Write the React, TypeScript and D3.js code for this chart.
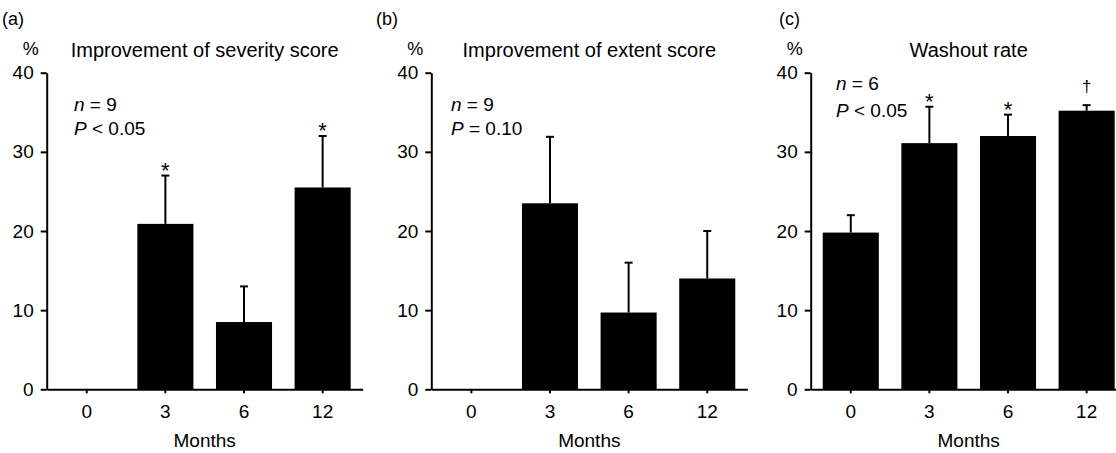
import React, { useRef, useEffect } from "react";
import * as d3 from "d3";

// chart values
const months = ["0", "3", "6", "12"];
const yTicks = [0, 10, 20, 30, 40];

const severityMean = [null, 20.9, 8.5, 25.5];
const severityErr = [null, 6.1, 4.5, 6.5];
const severityMarks = ["", "*", "", "*"];

const extentMean = [null, 23.5, 9.7, 14.0];
const extentErr = [null, 8.4, 6.3, 6.0];
const extentMarks = ["", "", "", ""];

const washoutMean = [19.8, 31.1, 32.0, 35.2];
const washoutErr = [2.2, 4.6, 2.7, 0.7];
const washoutMarks = ["", "*", "*", "†"];

const panels = [
  { tag: "(a)", title: "Improvement of severity score", n: "9", pOp: "<", pVal: "0.05", mean: severityMean, err: severityErr, marks: severityMarks },
  { tag: "(b)", title: "Improvement of extent score", n: "9", pOp: "=", pVal: "0.10", mean: extentMean, err: extentErr, marks: extentMarks },
  { tag: "(c)", title: "Washout rate", n: "6", pOp: "<", pVal: "0.05", mean: washoutMean, err: washoutErr, marks: washoutMarks },
];

// layout of each panel (left axis position, panel tag, stats text)
const layout = [
  { axisX: 46.7, tagX: 2, statX: 74, nY: 111, pY: 135 },
  { axisX: 431.3, tagX: 376, statX: 451, nY: 111, pY: 135 },
  { axisX: 810.7, tagX: 779, statX: 836, nY: 90, pY: 117 },
];

const W = 1116;
const H = 453;
const FONT = "'Liberation Sans', Arial, Helvetica, sans-serif";

export default function App() {
  const svgRef = useRef(null);

  useEffect(() => {
    const svg = d3.select(svgRef.current);
    svg.selectAll("*").remove();

    const y = d3.scaleLinear().domain([0, 40]).range([389.3, 72.7]);

    panels.forEach((p, i) => {
      const L = layout[i];
      const x = d3
        .scaleBand()
        .domain(months)
        .range([L.axisX, L.axisX + 316])
        .paddingInner(0.287)
        .paddingOuter(0.153);
      const cx = (d) => x(d) + x.bandwidth() / 2;
      const mid = L.axisX + 158;

      const g = svg.append("g").attr("font-family", FONT).attr("fill", "#000");

      // bars
      g.selectAll("rect.bar")
        .data(months.filter((m, j) => p.mean[j] != null && p.mean[j] > 0))
        .join("rect")
        .attr("class", "bar")
        .attr("x", (d) => x(d))
        .attr("width", x.bandwidth())
        .attr("y", (d) => y(p.mean[months.indexOf(d)]))
        .attr("height", (d) => y(0) - y(p.mean[months.indexOf(d)]))
        .attr("fill", "#000");

      // upper error bars with significance marks
      months.forEach((m, j) => {
        if (p.mean[j] == null || p.err[j] == null) return;
        const top = y(p.mean[j] + p.err[j]);
        g.append("line")
          .attr("x1", cx(m)).attr("x2", cx(m))
          .attr("y1", y(p.mean[j])).attr("y2", top)
          .attr("stroke", "#000").attr("stroke-width", 2);
        g.append("line")
          .attr("x1", cx(m) - 4).attr("x2", cx(m) + 4)
          .attr("y1", top).attr("y2", top)
          .attr("stroke", "#000").attr("stroke-width", 2);
        const mk = p.marks[j];
        if (mk === "*") {
          g.append("text").attr("x", cx(m)).attr("y", top + 2)
            .attr("text-anchor", "middle").attr("font-size", 22).attr("fill", "#000").text(mk);
        } else if (mk) {
          g.append("text").attr("x", cx(m)).attr("y", top - 13)
            .attr("text-anchor", "middle").attr("font-size", 17).attr("fill", "#000").text(mk);
        }
      });

      // axes
      const yAxis = g.append("g")
        .attr("transform", `translate(${L.axisX},0)`)
        .call(d3.axisLeft(y).tickValues(yTicks).tickSize(6).tickSizeOuter(0).tickPadding(7));
      const xAxis = g.append("g")
        .attr("transform", `translate(0,${y(0)})`)
        .call(d3.axisBottom(x).tickSize(4).tickSizeOuter(0).tickPadding(11));
      [yAxis, xAxis].forEach((a) => {
        a.selectAll("path, line").attr("stroke", "#000").attr("stroke-width", 2);
        a.selectAll("text").attr("font-size", 19).attr("font-family", FONT).attr("fill", "#000");
      });

      // titles and labels
      g.append("text").attr("x", L.tagX).attr("y", 25).attr("font-size", 18).text(p.tag);
      g.append("text").attr("x", L.axisX - 8).attr("y", 55).attr("text-anchor", "end")
        .attr("font-size", 18).text("%");
      g.append("text").attr("x", mid).attr("y", 57).attr("text-anchor", "middle")
        .attr("font-size", 20).text(p.title);
      g.append("text").attr("x", mid).attr("y", 447).attr("text-anchor", "middle")
        .attr("font-size", 19).text("Months");

      const nt = g.append("text").attr("x", L.statX).attr("y", L.nY).attr("font-size", 19);
      nt.append("tspan").attr("font-style", "italic").text("n");
      nt.append("tspan").text(" = " + p.n);
      const pt = g.append("text").attr("x", L.statX).attr("y", L.pY).attr("font-size", 19);
      pt.append("tspan").attr("font-style", "italic").text("P");
      pt.append("tspan").text(" " + p.pOp + " " + p.pVal);
    });
  }, []);

  return (
    <svg
      ref={svgRef}
      width={W}
      height={H}
      style={{ position: "absolute", left: 0, top: 0, background: "#fff" }}
    />
  );
}
